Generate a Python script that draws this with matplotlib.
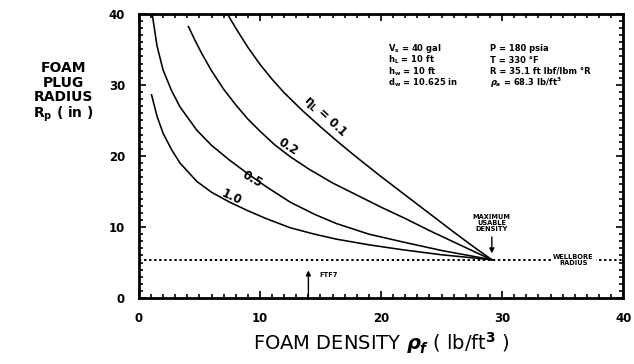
import matplotlib
matplotlib.use("Agg")
import matplotlib.pyplot as plt
from matplotlib.ticker import MultipleLocator

plt.rcParams["font.family"] = "DejaVu Sans"
plt.rcParams["font.weight"] = "bold"
plt.rcParams["mathtext.fontset"] = "dejavusans"
plt.rcParams["mathtext.default"] = "bf"

# foam plug radius curves, one per quality value
eta_labels = ["0.1", "0.2", "0.5", "1.0"]

x_01 = [7.3, 8.0, 9.0, 10.0, 11.0, 12.0, 13.5, 15.0, 16.5, 18.0, 20.0, 22.0, 24.0, 26.0, 27.5, 29.15]
y_01 = [40.0, 38.0, 35.3, 32.9, 30.8, 28.9, 26.4, 24.1, 21.9, 19.8, 17.1, 14.5, 11.9, 9.3, 7.4, 5.4]

x_02 = [4.1, 4.6, 5.2, 6.0, 7.0, 8.0, 9.0, 10.0, 11.2, 12.5, 14.0, 16.0, 18.0, 20.0, 22.0, 24.0, 26.0, 28.0, 29.15]
y_02 = [38.2, 36.4, 34.4, 32.0, 29.4, 27.2, 25.2, 23.5, 21.6, 19.9, 18.2, 16.2, 14.5, 12.8, 11.2, 9.5, 7.9, 6.3, 5.4]

x_05 = [1.1, 1.5, 2.0, 2.7, 3.4, 4.8, 6.0, 7.5, 9.0, 10.5, 12.5, 14.5, 16.3, 19.0, 21.8, 25.0, 29.15]
y_05 = [40.0, 35.5, 32.1, 29.2, 26.9, 23.6, 21.5, 19.4, 17.5, 15.7, 13.5, 11.8, 10.5, 9.0, 7.9, 6.7, 5.4]

x_10 = [1.05, 1.5, 2.0, 2.7, 3.4, 4.8, 6.0, 7.5, 9.0, 10.5, 12.5, 14.5, 16.3, 19.0, 21.8, 25.0, 29.15]
y_10 = [28.6, 25.6, 23.2, 20.9, 19.0, 16.4, 14.9, 13.5, 12.3, 11.2, 9.9, 9.0, 8.3, 7.5, 6.8, 6.1, 5.4]

# operating conditions printed in the upper right
params_left = ["$V_s$ = 40 gal", "$h_L$ = 10 ft", "$h_w$ = 10 ft", "$d_w$ = 10.625 in"]
params_right = ["P = 180 psia", "T = 330 \u00b0F", "R = 35.1 ft lbf/lbm \u00b0R",
                r"$\mathit{\rho_a}$ = 68.3 lb/ft$^3$"]

wellbore_radius = 10.625 / 2
max_density = 29.15
ftf7_density = 14.0

fig = plt.figure(figsize=(6.34, 3.64), dpi=100)
ax = fig.add_axes([0.219, 0.181, 0.764, 0.781])

for xs, ys in [(x_01, y_01), (x_02, y_02), (x_05, y_05), (x_10, y_10)]:
    ax.plot(xs, ys, color="black", lw=1.15, solid_joinstyle="round")

ax.axhline(wellbore_radius, color="black", lw=1.4, ls=(0, (1.2, 1.4)))

ax.set_xlim(0, 40)
ax.set_ylim(0, 40)
ax.xaxis.set_major_locator(MultipleLocator(10))
ax.yaxis.set_major_locator(MultipleLocator(10))
ax.xaxis.set_minor_locator(MultipleLocator(1))
ax.yaxis.set_minor_locator(MultipleLocator(1))
ax.tick_params(which="both", direction="in", top=True, right=True, width=1.2)
ax.tick_params(which="major", length=5, labelsize=8.5, pad=10)
ax.tick_params(which="minor", length=3)
for s in ax.spines.values():
    s.set_linewidth(2)

# curve labels
ax.text(15.4, 25.6, r"$\eta_L$ = 0.1", rotation=-43, fontsize=8.5,
        ha="center", va="center")
ax.text(12.3, 21.3, eta_labels[1], rotation=-33, fontsize=8.5,
        ha="center", va="center")
ax.text(9.4, 16.7, eta_labels[2], rotation=-30, fontsize=8.5,
        ha="center", va="center")
ax.text(7.7, 14.2, eta_labels[3], rotation=-25, fontsize=8.5,
        ha="center", va="center")

# parameter block, one line at a time
line_y = [35.1, 33.5, 31.9, 30.3]
for i in range(4):
    ax.text(20.6, line_y[i], params_left[i], fontsize=6.0, va="center", ha="left")
    ax.text(29.0, line_y[i], params_right[i], fontsize=6.0, va="center", ha="left")

# maximum usable density marker
ax.text(max_density, 10.6, "MAXIMUM\nUSABLE\nDENSITY", fontsize=4.8,
        ha="center", va="center", linespacing=1.0)
ax.annotate("", xy=(max_density, 6.3), xytext=(max_density, 8.6),
            arrowprops=dict(arrowstyle="-|>", color="black", lw=1.0,
                            mutation_scale=7, shrinkA=0, shrinkB=0))

ax.text(35.9, wellbore_radius, "WELLBORE\nRADIUS", fontsize=4.8, ha="center",
        va="center", linespacing=1.0,
        bbox=dict(facecolor="white", edgecolor="none", pad=1.5))

# FTF7 marker
ax.annotate("", xy=(ftf7_density, 3.9), xytext=(ftf7_density, 0),
            arrowprops=dict(arrowstyle="-|>", color="black", lw=1.0,
                            mutation_scale=7, shrinkA=0, shrinkB=0))
ax.text(ftf7_density + 0.9, 3.2, "FTF7", fontsize=4.8, ha="left", va="center")

fig.text(0.100, 0.745, "FOAM\nPLUG\nRADIUS\nR$_p$ ( in )", fontsize=10,
         ha="center", va="center", linespacing=1.05)
ax.set_xlabel(r"FOAM DENSITY $\mathit{\rho_f}$ ( lb/ft$^3$ )", fontsize=14,
              fontweight="normal", labelpad=4)

fig.savefig("out.png", dpi=100)
